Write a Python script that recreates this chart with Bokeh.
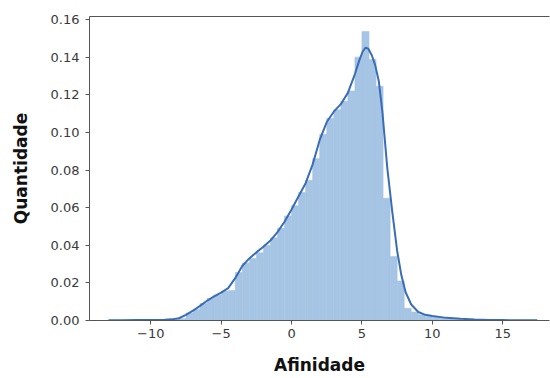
from bokeh.plotting import figure
from bokeh.models import Range1d, FixedTicker, NumeralTickFormatter, LinearAxis
from bokeh.embed import file_html
from bokeh.resources import INLINE

# Histogram: bins of width 0.5 (left edges) and densities
bin_left = [-10.0, -9.5, -9.0, -8.5, -8.0, -7.5, -7.0, -6.5, -6.0, -5.5, -5.0, -4.5,
            -4.0, -3.5, -3.0, -2.5, -2.0, -1.5, -1.0, -0.5, 0.0, 0.5, 1.0, 1.5,
            2.0, 2.5, 3.0, 3.5, 4.0, 4.5, 5.0, 5.5, 6.0, 6.5, 7.0, 7.5, 8.0, 8.5,
            9.0, 9.5, 10.0, 10.5, 11.0, 11.5]
bin_width = 0.5
hist_density = [0.0003, 0.0003, 0.0005, 0.0007, 0.0010, 0.0040, 0.0060, 0.0090, 0.0118, 0.0135, 0.0155, 0.0160,
                0.0255, 0.0305, 0.0330, 0.0360, 0.0400, 0.0440, 0.0490, 0.0556, 0.0610, 0.0680, 0.0745, 0.0860,
                0.0990, 0.1075, 0.1120, 0.1166, 0.1220, 0.1400, 0.1536, 0.1388, 0.1245, 0.0650, 0.0340, 0.0210,
                0.0065, 0.0045, 0.0030, 0.0022, 0.0017, 0.0012, 0.0009, 0.0006]

# KDE curve
kde_x = [-13.0, -12.0, -11.0, -10.0, -9.0, -8.5, -8.0, -7.5, -7.0, -6.5, -6.0, -5.5, -5.0, -4.5,
         -4.0, -3.5, -3.0, -2.5, -2.0, -1.5, -1.0, -0.5, 0.0, 0.5, 1.0, 1.5, 2.0, 2.5, 3.0, 3.5,
         4.0, 4.5, 4.8, 5.05, 5.25, 5.45, 5.7, 5.95, 6.2, 6.45, 6.8, 7.15, 7.5, 7.8, 8.1, 8.5, 9.0, 9.5, 10.0,
         11.0, 12.0, 13.0, 14.0, 15.0, 16.0, 17.45]
kde_y = [0.0001, 0.0001, 0.0002, 0.0003, 0.0004, 0.0006, 0.0012, 0.0030, 0.0052, 0.0078, 0.0105, 0.0128, 0.0148, 0.0172,
         0.0225, 0.0290, 0.0330, 0.0362, 0.0392, 0.0425, 0.0470, 0.0525, 0.0590, 0.0660, 0.0730, 0.0830, 0.0960, 0.1055, 0.1110, 0.1150,
         0.1210, 0.1310, 0.1380, 0.1430, 0.1450, 0.1445, 0.1410, 0.1355, 0.1270, 0.1110, 0.0810, 0.0580, 0.0370, 0.0240, 0.0150, 0.0085, 0.0045, 0.0030, 0.0024,
         0.0014, 0.0009, 0.0005, 0.0003, 0.0002, 0.0001, 0.0001]

x_ticks = [-10, -5, 0, 5, 10, 15]
x_tick_labels = ["\u221210", "\u22125", "0", "5", "10", "15"]
y_ticks = [0.00, 0.02, 0.04, 0.06, 0.08, 0.10, 0.12, 0.14, 0.16]

x_title = "Afinidade"
y_title = "Quantidade"

p = figure(width=550, height=378, output_backend="svg", toolbar_location=None,
           x_range=Range1d(-14.35, 18.32), y_range=Range1d(0, 0.1616),
           min_border_left=89, min_border_right=1, min_border_top=16, min_border_bottom=58)
p.outline_line_color = None
p.xgrid.visible = False
p.ygrid.visible = False

bin_right = [b + bin_width for b in bin_left]
p.quad(left=bin_left, right=bin_right, bottom=0, top=hist_density,
       fill_color="#a6c4e4", line_color="#a6c4e4", line_width=0.6)
p.line(kde_x, kde_y, line_color="#3a6db5", line_width=2)

axis_color = "#555555"
label_color = "#3a3a3a"

for ax in (p.xaxis[0], p.yaxis[0]):
    ax.axis_line_color = axis_color
    ax.major_tick_line_color = axis_color
    ax.minor_tick_line_color = None
    ax.major_tick_out = 4
    ax.major_tick_in = 0
    ax.major_label_text_font = "DejaVu Sans"
    ax.major_label_text_font_size = "13px"
    ax.major_label_text_color = label_color
    ax.axis_label_text_font = "DejaVu Sans"
    ax.axis_label_text_font_size = "17px"
    ax.axis_label_text_font_style = "bold"
    ax.axis_label_text_color = "#111111"

p.xaxis[0].ticker = FixedTicker(ticks=x_ticks)
p.xaxis[0].major_label_overrides = dict(zip(x_ticks, x_tick_labels))
p.xaxis[0].major_label_standoff = 4
p.xaxis[0].axis_label = x_title
p.xaxis[0].axis_label_standoff = 14

p.yaxis[0].ticker = FixedTicker(ticks=y_ticks)
p.yaxis[0].formatter = NumeralTickFormatter(format="0.00")
p.yaxis[0].major_label_standoff = 6
p.yaxis[0].axis_label = y_title
p.yaxis[0].axis_label_standoff = 17

top_axis = LinearAxis(axis_line_color=axis_color, ticker=FixedTicker(ticks=[]),
                      major_tick_line_color=None, minor_tick_line_color=None)
p.add_layout(top_axis, "above")

open("out.html", "w").write(file_html(p, INLINE))
